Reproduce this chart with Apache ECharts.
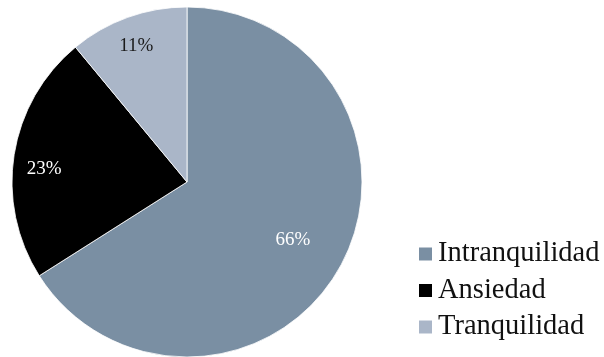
<!DOCTYPE html>
<html>
<head>
<meta charset="utf-8">
<script src="https://cdn.jsdelivr.net/npm/echarts@6/dist/echarts.min.js"></script>
<style>
  html, body { margin: 0; padding: 0; background: #fff; }
  #chart { width: 604px; height: 357px; }
</style>
</head>
<body>
<div id="chart"></div>
<script>
// Emotional states, share of responses (%)
const categories = ['Intranquilidad', 'Ansiedad', 'Tranquilidad'];
const values = [66, 23, 11];
const sliceColors = ['#7a8fa3', '#000000', '#aab6c8'];
const labelColors = ['#ffffff', '#ffffff', '#1a1a1a'];
// Placement of each value label: fraction of the radius, and angular nudge (deg)
const labelRadius = [0.69, 0.82, 0.83];
const labelAngleShift = [0, -3.8, -0.6];

const FONT = '"Liberation Serif", "DejaVu Serif", serif';
const CX = 187, CY = 182, R = 175;

const total = values.reduce((a, b) => a + b, 0);
// Mid-angle of each slice, degrees clockwise from 12 o'clock
const midAngles = [];
values.reduce((acc, v) => {
  midAngles.push((acc + v / 2) / total * 360);
  return acc + v;
}, 0);

const chart = echarts.init(document.getElementById('chart'), null, { renderer: 'canvas' });

chart.setOption({
  animation: false,
  legend: {
    orient: 'vertical',
    left: 412,
    top: 234,
    itemWidth: 15,
    itemHeight: 15,
    itemGap: 6.5,
    icon: 'rect',
    data: categories,
    textStyle: {
      fontFamily: FONT,
      fontSize: 28.5,
      color: '#111',
      lineHeight: 30
    }
  },
  series: [{
    type: 'pie',
    center: [CX, CY],
    radius: [0, R],
    startAngle: 90,
    clockwise: true,
    avoidLabelOverlap: false,
    itemStyle: { borderColor: '#ffffff', borderWidth: 0.8 },
    label: {
      show: true,
      position: 'inside',
      formatter: '{c}%',
      fontFamily: FONT,
      fontSize: 19
    },
    labelLine: { show: false },
    labelLayout: function (params) {
      const i = params.dataIndex;
      const a = (midAngles[i] + labelAngleShift[i]) * Math.PI / 180;
      const r = labelRadius[i] * R;
      return {
        x: CX + r * Math.sin(a),
        y: CY - r * Math.cos(a),
        align: 'center',
        verticalAlign: 'middle'
      };
    },
    data: categories.map((name, i) => ({
      name: name,
      value: values[i],
      itemStyle: { color: sliceColors[i] },
      label: { color: labelColors[i] }
    }))
  }]
});
</script>
</body>
</html>
